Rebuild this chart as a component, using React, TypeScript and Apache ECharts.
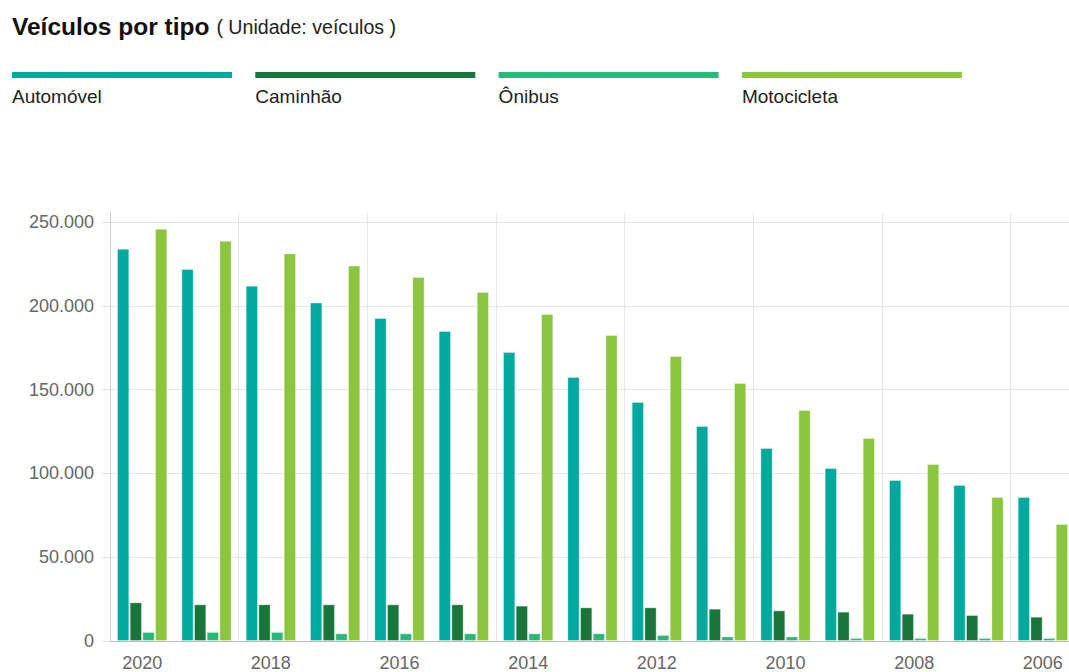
import React, { useEffect, useRef } from "react";
import * as echarts from "echarts";

const years = ["2020", "2019", "2018", "2017", "2016", "2015", "2014", "2013", "2012", "2011", "2010", "2009", "2008", "2007", "2006"];
const seriesNames = ["Automóvel", "Caminhão", "Ônibus", "Motocicleta"];
const seriesColors = ["#00a99d", "#18763a", "#29b878", "#8cc63f"];
const automovel = [234000, 222000, 212000, 202000, 192700, 185000, 172400, 157500, 142600, 128300, 115200, 103200, 96100, 93100, 85900];
const caminhao = [23100, 21900, 21900, 21900, 21900, 21900, 21100, 20100, 20100, 19300, 18300, 17500, 16300, 15500, 14500];
const onibus = [5400, 5400, 5400, 4600, 4600, 4600, 4600, 4600, 3600, 2700, 2700, 1800, 1800, 1800, 1800];
const motocicleta = [246000, 238900, 231300, 224000, 217200, 208300, 195100, 182600, 170100, 154000, 137800, 121100, 105600, 85900, 69800];
const seriesData = [automovel, caminhao, onibus, motocicleta];

const fmt = (v: number) => String(v).replace(/\B(?=(\d{3})+(?!\d))/g, ".");

export default function App() {
  const ref = useRef<HTMLDivElement>(null);
  useEffect(() => {
    if (!ref.current) return;
    const chart = echarts.init(ref.current, null, { renderer: "svg" });
    const font = "Liberation Sans, Arial, sans-serif";
    const legendGraphics: any[] = [];
    seriesNames.forEach((n, i) => {
      const x = 12 + i * 243.3;
      legendGraphics.push({
        type: "rect",
        left: x,
        top: 72,
        shape: { width: 220, height: 6 },
        style: { fill: seriesColors[i] },
      });
      legendGraphics.push({
        type: "text",
        left: x,
        top: 87,
        style: { text: n, fontSize: 19, fontFamily: font, fill: "#222" },
      });
    });
    chart.setOption({
      animation: false,
      textStyle: { fontFamily: font },
      title: {
        left: 7,
        top: 9,
        text: "{a|Veículos por tipo} {b|( Unidade: veículos )}",
        textStyle: {
          fontWeight: "normal",
          rich: {
            a: { fontSize: 24.5, fontWeight: "bold", color: "#111", fontFamily: font, padding: [0, 2, 0, 0] },
            b: { fontSize: 19.6, fontWeight: "normal", color: "#222", fontFamily: font },
          },
        },
      },
      graphic: legendGraphics,
      grid: { left: 110, right: 0, top: 213, bottom: 31, containLabel: false },
      xAxis: {
        type: "category",
        data: years,
        axisLine: { lineStyle: { color: "#bbb" } },
        axisTick: { interval: 1, length: 16, lineStyle: { color: "#ddd" } },
        axisLabel: { interval: 1, fontSize: 18, color: "#666", margin: 13 },
        splitLine: { show: true, interval: 1, lineStyle: { color: "#e6e6e6" } },
      },
      yAxis: {
        type: "value",
        min: 0,
        max: 255400,
        interval: 50000,
        axisLine: { show: true, lineStyle: { color: "#ccc" } },
        axisTick: { show: true, length: 8, lineStyle: { color: "#e0e0e0" } },
        axisLabel: { fontSize: 18, color: "#666", margin: 16, showMaxLabel: false, formatter: (v: number) => fmt(v) },
        splitLine: { show: true, showMaxLine: false, lineStyle: { color: "#e6e6e6" } },
      },
      series: seriesNames.map((n, i) => ({
        name: n,
        type: "bar",
        data: seriesData[i],
        barWidth: 12.3,
        barGap: "3%",
        itemStyle: { color: seriesColors[i], borderColor: "rgba(255,255,255,0.35)", borderWidth: 1 },
      })),
    });
    return () => chart.dispose();
  }, []);
  return (
    <div style={{ position: "absolute", left: 0, top: 0, width: 1069, height: 672, overflow: "hidden", background: "#fff" }}>
      <div ref={ref} style={{ width: 1075, height: 672 }} />
    </div>
  );
}
